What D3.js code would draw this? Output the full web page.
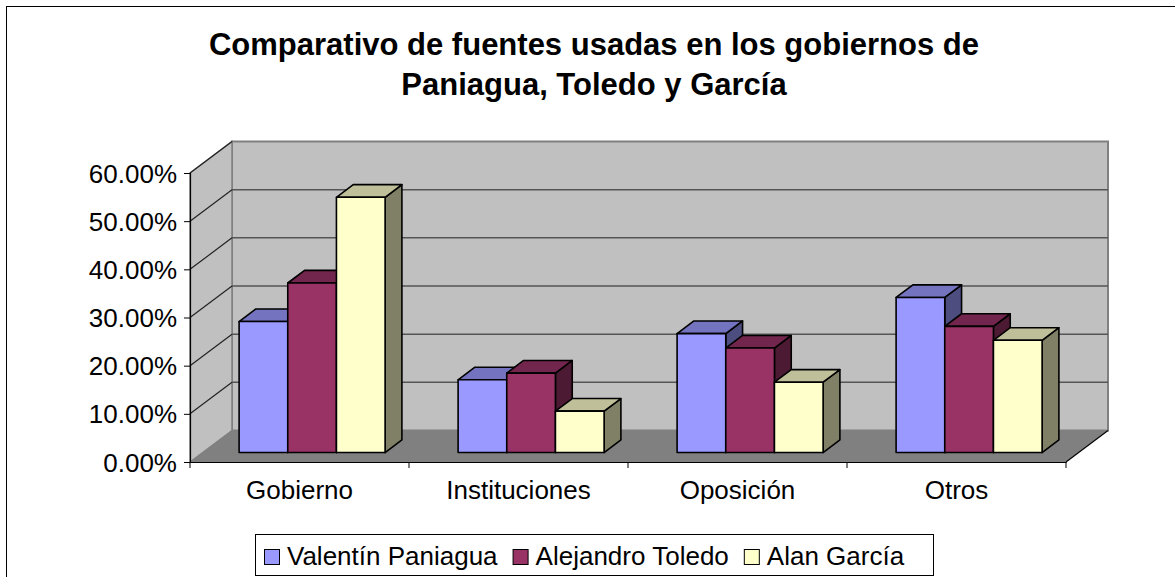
<!DOCTYPE html>
<html>
<head>
<meta charset="utf-8">
<script src="https://cdn.jsdelivr.net/npm/d3@7"></script>
<style>
  html, body { margin: 0; padding: 0; background: #fff; }
  svg { display: block; }
  text { font-family: Arial, "Liberation Sans", sans-serif; }
</style>
</head>
<body>
<svg id="chart" width="1175" height="577"></svg>
<script>
// ---- data ----
const titleLines = ["Comparativo de fuentes usadas en los gobiernos de", "Paniagua, Toledo y García"];
const categories = ["Gobierno", "Instituciones", "Oposición", "Otros"];
const seriesNames = ["Valentín Paniagua", "Alejandro Toledo", "Alan García"];
const paniagua = [0.272, 0.151, 0.247, 0.322];
const toledo   = [0.352, 0.165, 0.217, 0.262];
const garcia   = [0.530, 0.086, 0.146, 0.233];
const yTicks = [0, 0.1, 0.2, 0.3, 0.4, 0.5, 0.6];
const seriesColors = ["#9999FF", "#993366", "#FFFFCC"];

const seriesValues = [paniagua, toledo, garcia];

// ---- layout ----
const svg = d3.select("#chart");
const W = 1175, H = 577;
const plotLeft = 190, plotRight = 1066;
const DX = 42, DY = -31.5;          // full depth offset (front -> back wall)
const f1 = 0.3, f2 = 0.7;           // bar depth fractions

const y = d3.scaleLinear().domain([0, 0.6]).range([462, 173]);
const x0 = d3.scaleBand().domain(categories).range([plotLeft, plotRight]).paddingInner(0).paddingOuter(0);
const bw0 = x0.bandwidth();
const barW = bw0 / 4.5;
const x1 = d3.scaleBand().domain(seriesNames).range([barW * 0.75, bw0 - barW * 0.75]).padding(0);

function shade(c, k) {
  const r = d3.rgb(c);
  return d3.rgb(r.r * k, r.g * k, r.b * k).formatHex();
}
const P = (px, py, f) => [px + DX * f, py + DY * f];
const pts = arr => arr.map(p => p.join(",")).join(" ");

// outer frame (extends beyond the visible area on the right and bottom)
svg.append("rect").attr("x", 6.5).attr("y", 6.5).attr("width", 1300).attr("height", 700)
  .attr("fill", "#fff").attr("stroke", "#000").attr("stroke-width", 1);

// title
svg.append("g").selectAll("text").data(titleLines).join("text")
  .attr("x", 594).attr("y", (d, i) => 55 + i * 40)
  .attr("text-anchor", "middle").attr("font-size", 31).attr("font-weight", "bold")
  .attr("fill", "#000").text(d => d);

// ---- walls & floor ----
const yMin = y(0), yMax = y(0.6);
// back wall
svg.append("polygon")
  .attr("points", pts([P(plotLeft, yMax, 1), P(plotRight, yMax, 1), P(plotRight, yMin, 1), P(plotLeft, yMin, 1)]))
  .attr("fill", "#C0C0C0").attr("stroke", "#808080").attr("stroke-width", 2);
// side wall
svg.append("polygon")
  .attr("points", pts([P(plotLeft, yMax, 0), P(plotLeft, yMax, 1), P(plotLeft, yMin, 1), P(plotLeft, yMin, 0)]))
  .attr("fill", "#C0C0C0").attr("stroke", "#808080").attr("stroke-width", 1.5);
// floor
svg.append("polygon")
  .attr("points", pts([P(plotLeft, yMin, 0), P(plotRight, yMin, 0), P(plotRight, yMin, 1), P(plotLeft, yMin, 1)]))
  .attr("fill", "#808080");

// gridlines on back wall and side wall
const grid = svg.append("g");
yTicks.filter(t => t > 0 && t < 0.6).forEach(t => {
  const a = P(plotLeft, y(t), 1), b = P(plotRight, y(t), 1);
  grid.append("line").attr("x1", a[0]).attr("y1", a[1]).attr("x2", b[0]).attr("y2", b[1])
    .attr("stroke", "#555").attr("stroke-width", 1.5);
});
yTicks.filter(t => t > 0).forEach(t => {
  const a = P(plotLeft, y(t), 0), b = P(plotLeft, y(t), 1);
  grid.append("line").attr("x1", a[0]).attr("y1", a[1]).attr("x2", b[0]).attr("y2", b[1])
    .attr("stroke", "#222").attr("stroke-width", 1.2);
});

// ---- bars ----
const bars = svg.append("g");
categories.forEach((cat, ci) => {
  seriesNames.forEach((s, si) => {
    const v = seriesValues[si][ci];
    const c = seriesColors[si];
    const xl = x0(cat) + x1(s), xr = xl + x1.bandwidth();
    const yt = y(v), yb = y(0);
    const g = bars.append("g").attr("stroke", "#000").attr("stroke-width", 1.6).attr("stroke-linejoin", "round");
    // right side face
    g.append("polygon").attr("fill", shade(c, 0.5))
      .attr("points", pts([P(xr, yt, f1), P(xr, yt, f2), P(xr, yb, f2), P(xr, yb, f1)]));
    // top face
    g.append("polygon").attr("fill", shade(c, 0.75))
      .attr("points", pts([P(xl, yt, f1), P(xl, yt, f2), P(xr, yt, f2), P(xr, yt, f1)]));
    // front face
    g.append("polygon").attr("fill", c)
      .attr("points", pts([P(xl, yt, f1), P(xr, yt, f1), P(xr, yb, f1), P(xl, yb, f1)]));
  });
});

// ---- axes ----
const axisG = svg.append("g");
// value axis
const yAxis = d3.axisLeft(y).tickValues(yTicks).tickSize(6).tickFormat(d3.format(".2%"));
const ya = axisG.append("g").attr("transform", `translate(${plotLeft},0)`).call(yAxis);
ya.select(".domain").attr("stroke", "#000").attr("stroke-width", 1.2);
ya.selectAll(".tick line").attr("stroke", "#000").attr("stroke-width", 1);
ya.selectAll(".tick text").attr("font-size", 26).attr("fill", "#000")
  .attr("font-family", 'Arial, "Liberation Sans", sans-serif')
  .attr("x", -13).attr("dy", "0.35em");

// category axis (front floor edge)
const xAxis = d3.axisBottom(x0).tickSize(0).tickPadding(0);
const xa = axisG.append("g").attr("transform", `translate(0,${y(0)})`).call(xAxis);
xa.select(".domain").attr("stroke", "#000").attr("stroke-width", 1.2);
xa.selectAll(".tick text").attr("font-size", 26).attr("fill", "#000")
  .attr("font-family", 'Arial, "Liberation Sans", sans-serif')
  .attr("y", 37).attr("dy", 0);
// category boundary ticks
const bounds = categories.map(c => x0(c)).concat([plotRight]);
axisG.append("g").selectAll("line").data(bounds).join("line")
  .attr("x1", d => d).attr("x2", d => d).attr("y1", y(0)).attr("y2", y(0) + 6)
  .attr("stroke", "#000").attr("stroke-width", 1);
// floor right edge
const fr0 = P(plotRight, y(0), 0), fr1 = P(plotRight, y(0), 1);
axisG.append("line").attr("x1", fr0[0]).attr("y1", fr0[1]).attr("x2", fr1[0]).attr("y2", fr1[1])
  .attr("stroke", "#000").attr("stroke-width", 1.2);

// ---- legend ----
const leg = svg.append("g");
leg.append("rect").attr("x", 255.5).attr("y", 534.5).attr("width", 678).attr("height", 41)
  .attr("fill", "#fff").attr("stroke", "#000").attr("stroke-width", 1);
let lx = 264;
seriesNames.forEach((s, i) => {
  leg.append("rect").attr("x", lx + 0.5).attr("y", 549.5).attr("width", 15).attr("height", 15)
    .attr("fill", seriesColors[i]).attr("stroke", "#000").attr("stroke-width", 1);
  const t = leg.append("text").attr("x", lx + 23).attr("y", 565).attr("font-size", 26)
    .attr("fill", "#000").text(s);
  const w = t.node().getComputedTextLength();
  lx = lx + 23 + w + 15;
});
</script>
</body>
</html>
